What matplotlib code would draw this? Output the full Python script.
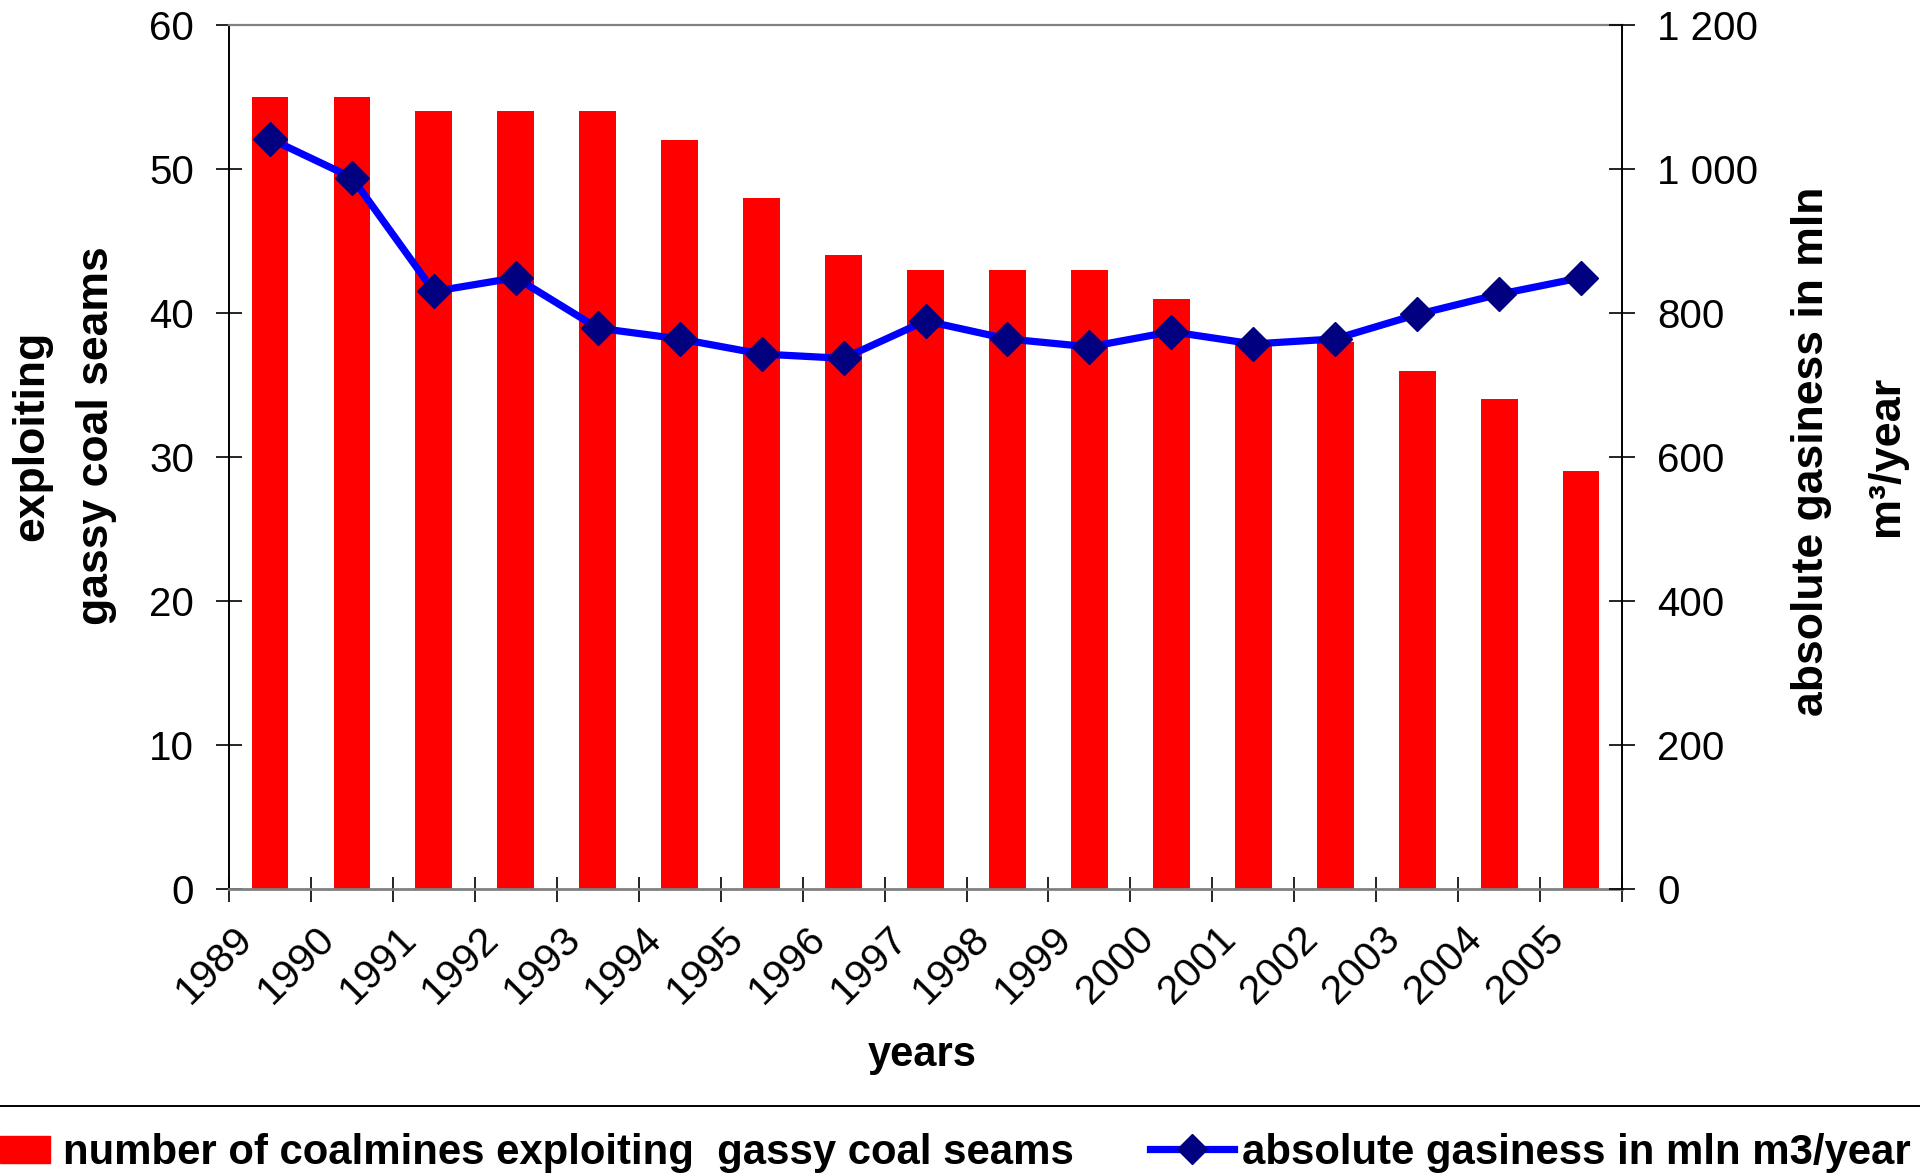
import numpy as np
import matplotlib
matplotlib.use("Agg")
import matplotlib.pyplot as plt
from matplotlib.ticker import FuncFormatter
from matplotlib.lines import Line2D
from matplotlib.patches import Patch
from matplotlib.transforms import ScaledTranslation

plt.rcParams['font.family'] = ['Liberation Sans', 'DejaVu Sans']

# -----------------------------------------
# Data
# -----------------------------------------
years = [str(y) for y in range(1989, 2006)]
coalmines = [55, 55, 54, 54, 54, 52, 48, 44, 43, 43, 43, 41, 38, 38, 36, 34, 29]
gasiness = [1042, 988, 830, 849, 779, 764, 743, 737, 789, 764,
            753, 774, 757, 764, 798, 826, 849]

bar_label = "number of coalmines exploiting  gassy coal seams"
line_label = "absolute gasiness in mln m3/year"

red = "#FF0000"
blue = "#0000FF"
navy = "#000080"

# -----------------------------------------
# Figure / axes
# -----------------------------------------
fig = plt.figure(figsize=(19.2, 11.73), dpi=100)
ax = fig.add_axes([0.1193, 0.2421, 0.7255, 0.7366])
ax2 = ax.twinx()

x = np.arange(len(years))

ax.bar(x, coalmines, width=0.45, color=red, zorder=2)
ax2.plot(x, gasiness, color=blue, lw=5.2, marker="D", ms=17.5,
         mfc=navy, mec=navy, zorder=3)

ax.set_xlim(-0.5, len(years) - 0.5)
ax.set_ylim(0, 60)
ax2.set_ylim(0, 1200)
ax.set_yticks(np.arange(0, 61, 10))
ax2.set_yticks(np.arange(0, 1201, 200))
ax2.yaxis.set_major_formatter(
    FuncFormatter(lambda v, p: f"{int(v):,}".replace(",", " ")))

# spines
ax.spines["top"].set_color("#808080")
ax.spines["top"].set_linewidth(1.6)
ax.spines["bottom"].set_color("#808080")
ax.spines["bottom"].set_linewidth(2)
ax.spines["left"].set_color("black")
ax.spines["left"].set_linewidth(1.4)
ax.spines["right"].set_visible(False)
for s in ["top", "bottom", "left"]:
    ax2.spines[s].set_visible(False)
ax2.spines["right"].set_color("black")
ax2.spines["right"].set_linewidth(1.4)

# y ticks
ax.tick_params(axis="y", direction="inout", length=18.5, width=1.2,
               labelsize=29, pad=16)
ax2.tick_params(axis="y", direction="inout", length=18.5, width=1.2,
                labelsize=29, pad=16)

# x ticks: labels at categories, tick marks between categories
ax.set_xticks(x)
ax.set_xticklabels(years, rotation=45, ha="right", va="top",
                   rotation_mode="anchor", fontsize=29.5)
ax.tick_params(axis="x", which="major", length=0, pad=22)
ax.set_xticks(np.arange(-0.5, len(years), 1), minor=True)
ax.tick_params(axis="x", which="minor", direction="inout", length=18,
               width=1.2)
shift = ScaledTranslation(-37 / 100, 0, fig.dpi_scale_trans)
for lab in ax.get_xticklabels():
    lab.set_transform(lab.get_transform() + shift)

# axis titles
ax.set_xlabel("years", fontsize=30, fontweight="bold")
ax.xaxis.set_label_coords(0.4975, -0.192)
ax.xaxis.label.set_va("center")

fig.text(32 / 1920, 1 - 436 / 1173, "exploiting", rotation=90,
         fontsize=32, fontweight="bold", ha="center", va="center")
fig.text(97 / 1920, 1 - 436 / 1173, "gassy coal seams", rotation=90,
         fontsize=32, fontweight="bold", ha="center", va="center")
fig.text(1812 / 1920, 1 - 451 / 1173, "absolute gasiness in mln",
         rotation=90, fontsize=32, fontweight="bold",
         ha="center", va="center")
fig.text(1887 / 1920, 1 - 456 / 1173, "m³/year", rotation=90,
         fontsize=32.5, fontweight="bold", ha="center", va="center")

# separator line above legend
fig.add_artist(Line2D([0, 1], [1 - 1106 / 1173, 1 - 1106 / 1173],
                      transform=fig.transFigure, color="black", lw=1.4))

# -----------------------------------------
# Legend (two parts)
# -----------------------------------------
leg_y = 1 - 1153 / 1173
h1 = Patch(facecolor=red, edgecolor=red)
leg1 = fig.legend([h1], [bar_label], loc="center left",
                  bbox_to_anchor=(0, leg_y), frameon=False, borderpad=0,
                  borderaxespad=0, handlelength=1.2, handleheight=0.62,
                  handletextpad=0.31,
                  prop={"size": 30.2, "weight": "bold"})

h2 = Line2D([], [], color=blue, lw=5.2, marker="D", ms=15,
            mfc=navy, mec=navy)
leg2 = fig.legend([h2], [line_label], loc="center left",
                  bbox_to_anchor=(1150 / 1920, leg_y), frameon=False,
                  borderpad=0, borderaxespad=0, handlelength=2.0,
                  handletextpad=0.2,
                  prop={"size": 30.2, "weight": "bold"})

fig.savefig("out.png", dpi=100)
